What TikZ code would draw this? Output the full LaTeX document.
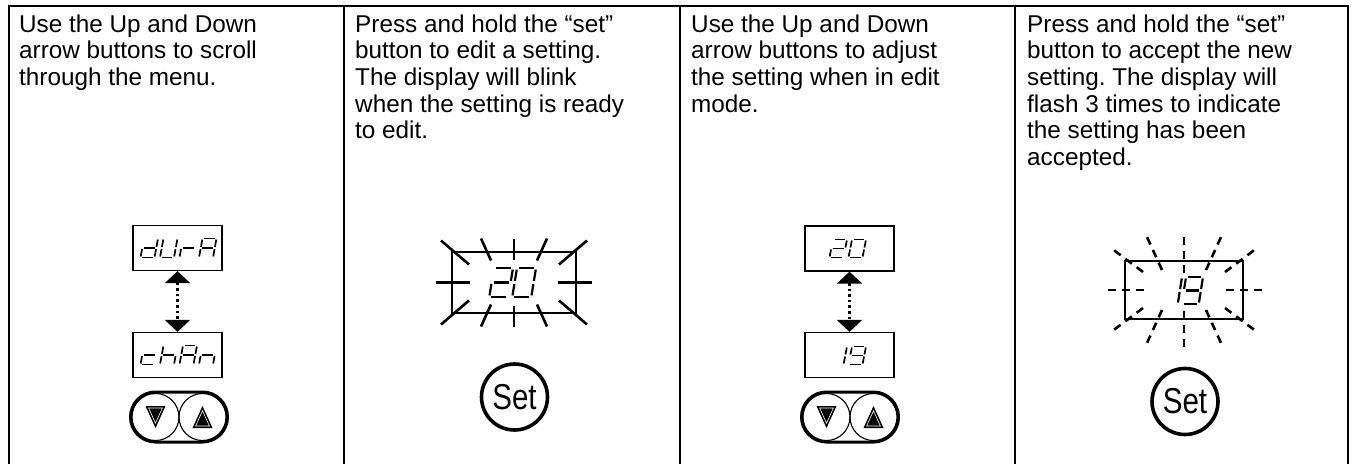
\documentclass[tikz,border=0pt]{standalone}
\usepackage{fontspec}
\setmainfont{Liberation Sans}
\usepackage{graphicx}
\usetikzlibrary{arrows.meta}
\frenchspacing
\tikzset{
  segl/.style={line width=1.7pt},
  pics/seven/.style={code={
    \foreach \s in {#1}{
      \if\s a\draw[segl] (0.11,0)--(0.89,0);\fi
      \if\s b\draw[segl] (1,0.11)--(1,0.89);\fi
      \if\s c\draw[segl] (1,1.11)--(1,1.89);\fi
      \if\s d\draw[segl] (0.11,2)--(0.89,2);\fi
      \if\s e\draw[segl] (0,1.11)--(0,1.89);\fi
      \if\s f\draw[segl] (0,0.11)--(0,0.89);\fi
      \if\s g\draw[segl] (0.11,1)--(0.89,1);\fi
    }
  }},
}
\newcommand\sevdig[6][]{\pic[xscale=#4,yscale=#5,xslant=0.125,#1] at (#2,#3) {seven={#6}};}
\begin{document}
\begin{tikzpicture}[x=1pt,y=-1pt,
  tbl/.style={line width=2.2pt},
  txt/.style={font=\fontsize{24.3}{26.6}\selectfont, align=left, inner sep=0pt, anchor=north west},
  dispbox/.style={draw, line width=1.3pt, minimum width=89pt, minimum height=45pt, inner sep=0pt},
  blinkbox/.style={draw, line width=2.5pt, inner sep=0pt},
  ray/.style={line width=2.6pt},
  dray/.style={line width=2.6pt, dash pattern=on 8pt off 6pt},
  dotarrow/.style={line width=2.6pt, dash pattern=on 2.6pt off 3pt, {Triangle[width=25pt,length=12pt]}-{Triangle[width=25pt,length=12pt]}},
  pill/.style={draw, line width=3pt, rounded corners=24.9pt, minimum width=97pt, minimum height=50pt, inner sep=0pt},
  knob/.style={draw, circle, line width=1.1pt, minimum size=47pt, inner sep=0pt},
  setbtn/.style={draw, circle, line width=3.6pt, minimum size=66pt, inner sep=0pt, font=\fontsize{36}{36}\selectfont},
  bigseg/.style={segl/.style={line width=2.2pt}},
]
\path[use as bounding box, fill=white] (0,0) rectangle (1351,464);

% table
\draw[tbl] (9,464) -- (9,6) -- (1348,6) -- (1348,464);
\draw[tbl] (344,6) -- (344,464);
\draw[tbl] (680,6) -- (680,464);
\draw[tbl] (1015,6) -- (1015,464);

% texts
\node[txt] (t1) at (19,14.5) {Use the Up and Down\\arrow buttons to scroll\\through the menu.};
\node[txt] (t2) at (355,14.5) {Press and hold the “set”\\button to edit a setting.\\The display will blink\\when the setting is ready\\to edit.};
\node[txt] (t3) at (691,14.5) {Use the Up and Down\\arrow buttons to adjust\\the setting when in edit\\mode.};
\node[txt] (t4) at (1027,14.5) {Press and hold the “set”\\button to accept the new\\setting. The display will\\flash 3 times to indicate\\the setting has been\\accepted.};

% column 1
\node[dispbox] (dura) at (177.5,248) {};
\node[dispbox] (chan) at (177.5,355) {};
\draw[dotarrow] (dura.south) -- (chan.north);
\sevdig{144}{238.5}{14}{9.5}{b,c,d,e,g}
\sevdig{163.5}{238.5}{14}{9.5}{b,c,d,e,f}
\sevdig{183}{238.5}{14}{9.5}{e,g}
\sevdig{202.5}{238.5}{14}{9.5}{a,b,c,e,f,g}
\sevdig{144}{345.5}{14}{9.5}{d,e,g}
\sevdig{163.5}{345.5}{14}{9.5}{c,e,f,g}
\sevdig{183}{345.5}{14}{9.5}{a,b,c,e,f,g}
\sevdig{202.5}{345.5}{14}{9.5}{c,e,g}
\node[pill] (pill1) at (179,417) {};
\node[knob] (dn1) at (155.5,417) {};
\node[knob] (up1) at (202.5,417) {};

% column 2
\node[blinkbox, minimum width=124pt, minimum height=61pt] (blink2) at (514,282.5) {};
\begin{scope}[shift={(blink2.center)}]
  \draw[ray] (-44,0)--(-78,0) (44,0)--(78,0);
  \draw[ray] (0,-23)--(0,-44) (0,23)--(0,44);
  \draw[ray] (-23,-22)--(-33,-44) (23,-22)--(33,-44) (-23,22)--(-33,44) (23,22)--(33,44);
  \draw[ray] (-45,-18)--(-73,-42) (45,-18)--(73,-42) (-45,18)--(-73,42) (45,18)--(73,42);
\end{scope}
\sevdig[bigseg]{494}{268}{19}{14.5}{a,b,g,e,d}
\sevdig[bigseg]{517}{268}{19}{14.5}{a,b,c,d,e,f}
\node[setbtn] (set2) at (514.5,397) {\scalebox{0.82}[1]{Set}};

% column 3
\node[dispbox] (d20) at (849.5,248.5) {};
\node[dispbox] (d19) at (849.5,355) {};
\draw[dotarrow] (d20.south) -- (d19.north);
\sevdig{833}{239.5}{14}{9}{a,b,g,e,d}
\sevdig{852}{239.5}{14}{9}{a,b,c,d,e,f}
\sevdig{833}{346.5}{14}{9}{b,c}
\sevdig{852}{346.5}{14}{9}{a,b,c,d,f,g}
\node[pill] (pill3) at (850,417) {};
\node[knob] (dn3) at (826.5,417) {};
\node[knob] (up3) at (873.5,417) {};

% column 4
\node[blinkbox, line width=2.2pt, minimum width=118pt, minimum height=58pt] (blink4) at (1184,290) {};
\begin{scope}[shift={(blink4.center)}]
  \draw[dray] (-40,0)--(-79,0) (42,0)--(82,0);
  \draw[dray] (0,-17)--(0,-53) (0,21)--(0,57);
  \draw[dray] (-22,-20)--(-37,-53) (22,-20)--(37,-53) (-22,20)--(-37,53) (22,20)--(37,53);
  \draw[dray] (-41,-18)--(-73,-42) (41,-18)--(73,-42) (-41,18)--(-73,42) (41,18)--(73,42);
\end{scope}
\sevdig[bigseg]{1165}{277}{17}{13.5}{b,c}
\sevdig[bigseg]{1186}{277}{17}{13.5}{a,b,c,d,f,g}
\node[setbtn] (set4) at (1185,401.5) {\scalebox{0.82}[1]{Set}};

% arrow glyphs in the knobs
\foreach \k in {dn1,dn3}{
  \fill[shift={(\k)}] (-10,-11)--(10,-11)--(0,11)--cycle;
  \draw[white, line width=0.6pt, shift={(\k)}] (-6.9,-9)--(6.9,-9)--(0,6.2)--cycle;
}
\foreach \k in {up1,up3}{
  \fill[shift={(\k)}] (-10,11)--(10,11)--(0,-11)--cycle;
  \draw[white, line width=0.6pt, shift={(\k)}] (-6.9,9)--(6.9,9)--(0,-6.2)--cycle;
}
\end{tikzpicture}
\end{document}
